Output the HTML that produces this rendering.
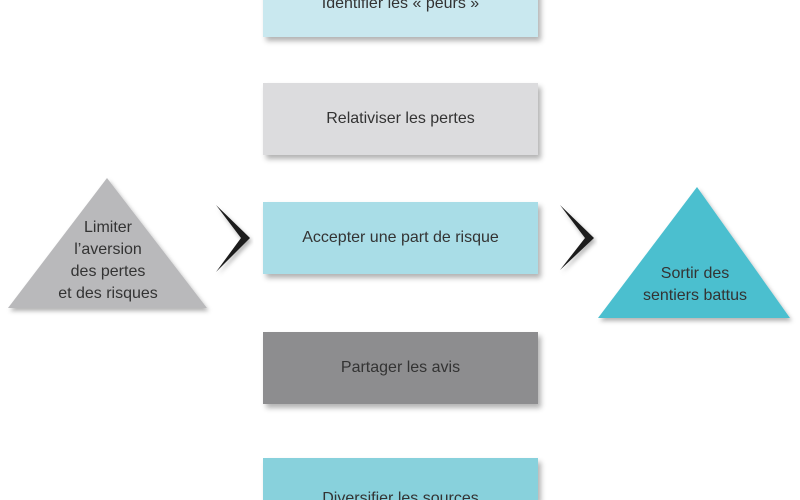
<!DOCTYPE html>
<html style="overflow:hidden;width:800px;height:500px"><head><style>
body{margin:0;width:800px;height:500px;background:#fff;position:relative;overflow:hidden;font-family:"Liberation Sans",sans-serif;}
.b{position:absolute;left:263px;width:275px;height:72px;display:flex;align-items:center;justify-content:center;font-size:16px;color:#333;box-shadow:3px 4px 5px rgba(0,0,0,0.3);}
</style></head><body>
<div class="b" style="top:-35px;background:#c9e8ef"><span style="position:relative;top:3px">Identifier les « peurs »</span></div>
<div class="b" style="top:83px;background:#dcdcde">Relativiser les pertes</div>
<div class="b" style="top:202px;background:#a9dde7">Accepter une part de risque</div>
<div class="b" style="top:332px;background:#8d8d8f">Partager les avis</div>
<div class="b" style="top:458px;height:42px;align-items:flex-end;background:#88d1dc"><span style="position:relative;top:8px">Diversifier les sources</span></div>
<svg width="800" height="500" style="position:absolute;left:0;top:0">
<defs><filter id="s"><feDropShadow dx="2" dy="3" stdDeviation="2" flood-opacity="0.3"/></filter></defs>
<polygon points="107,178 207,308 8,308" fill="#b9b9bb" filter="url(#s)"/>
<polygon points="697,187 790,318 598,318" fill="#4bbfcf" filter="url(#s)"/>
<polygon points="216,205 250,238 216,272 241,238" fill="#1a1a1a" filter="url(#s)"/>
<polygon points="560,205 594,238 560,270 585,238" fill="#1a1a1a" filter="url(#s)"/>
<g font-family="Liberation Sans, sans-serif" font-size="16" fill="#333" text-anchor="middle">
<text x="108" y="232">Limiter</text>
<text x="108" y="254">l’aversion</text>
<text x="108" y="276">des pertes</text>
<text x="108" y="298">et des risques</text>
<text x="695" y="278">Sortir des</text>
<text x="695" y="300">sentiers battus</text>
</g>
</svg>
</body></html>
